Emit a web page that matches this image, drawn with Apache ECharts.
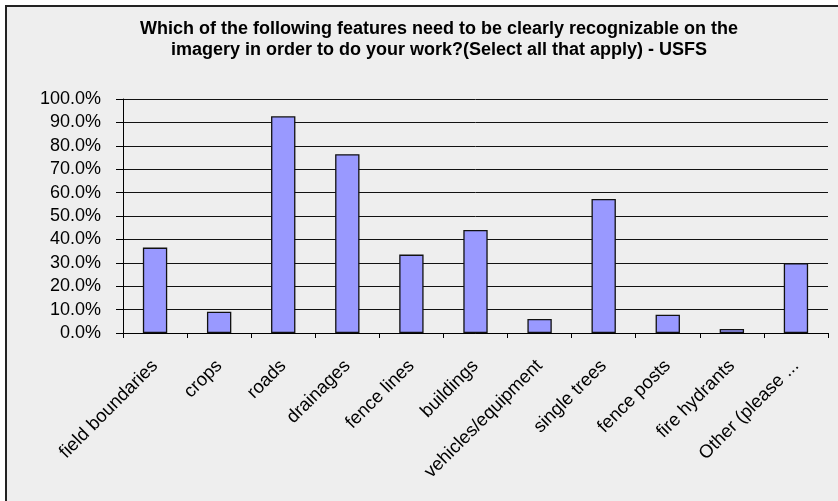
<!DOCTYPE html>
<html>
<head>
<meta charset="utf-8">
<script src="https://cdn.jsdelivr.net/npm/echarts@6/dist/echarts.min.js"></script>
<style>
html,body{margin:0;padding:0;background:#fff;}
#frame{position:absolute;left:5px;top:5px;width:833px;height:496px;background:#eeeeee;border-left:2px solid #222;border-top:2px solid #222;box-sizing:border-box;}
#c{position:absolute;left:0;top:0;width:838px;height:501px;}
</style>
</head>
<body>
<div id="frame"></div>
<div id="c"></div>
<script>
const titleLines = [
  "Which of the following features need to be clearly recognizable on the",
  "imagery in order to do your work?(Select all that apply) - USFS"
];
const categories = ["field boundaries","crops","roads","drainages","fence lines","buildings","vehicles/equipment","single trees","fence posts","fire hydrants","Other (please ..."];
const values = [36.5, 9.1, 92.6, 76.4, 33.5, 44.0, 6.0, 57.3, 7.8, 1.7, 29.8];
const yTicks = {min: 0, max: 100, interval: 10};

const chart = echarts.init(document.getElementById('c'), null, {renderer: 'canvas'});
chart.setOption({
  backgroundColor: 'transparent',
  animation: false,
  title: {
    text: titleLines.join('\n'),
    left: 434, top: 14, textAlign: 'center',
    textStyle: {fontFamily: 'Liberation Sans, Arial', fontWeight: 'bold', fontSize: 18, color: '#000', lineHeight: 21}
  },
  grid: {left: 123, right: 10, top: 99, bottom: 168},
  xAxis: {
    type: 'category', data: categories,
    axisLine: {lineStyle: {color: '#000', width: 1}},
    axisTick: {show: true, alignWithLabel: false, length: 5, lineStyle: {color: '#000'}},
    axisLabel: {rotate: 45, interval: 0, margin: 30, color: '#000', fontSize: 18.5, fontFamily: 'Liberation Sans, Arial'}
  },
  yAxis: {
    type: 'value', min: yTicks.min, max: yTicks.max, interval: yTicks.interval,
    axisLine: {show: true, lineStyle: {color: '#000', width: 1}},
    axisTick: {show: true, length: 7, lineStyle: {color: '#000'}},
    splitLine: {show: true, lineStyle: {color: '#111', width: 1}},
    axisLabel: {formatter: v => v.toFixed(1) + '%', color: '#000', fontSize: 18, margin: 22, fontFamily: 'Liberation Sans, Arial'}
  },
  series: [{
    type: 'bar', data: values, barWidth: '38%',
    itemStyle: {color: '#9999ff', borderColor: '#111', borderWidth: 1.3}
  }]
});
</script>
</body>
</html>
